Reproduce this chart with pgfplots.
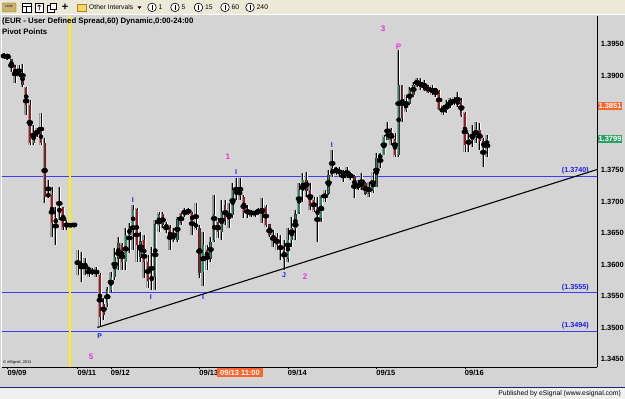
\documentclass[border=0pt]{standalone}
\usepackage{fontspec}
\setmainfont{Liberation Sans}
\usepackage{pgfplots}
\usepackage{pgfplotstable}
\pgfplotsset{compat=1.18}
\definecolor{bg}{RGB}{212,212,212}
\definecolor{tb}{RGB}{236,233,216}
\definecolor{strip}{RGB}{240,240,240}
\definecolor{navy}{RGB}{20,40,110}
\definecolor{upc}{RGB}{40,135,95}
\definecolor{dnc}{RGB}{165,25,30}
\definecolor{shadowc}{RGB}{150,150,150}
\definecolor{pivblue}{RGB}{60,60,255}
\definecolor{lblblue}{RGB}{30,30,230}
\definecolor{mag}{RGB}{230,50,220}
\definecolor{orangebox}{RGB}{255,100,45}
\definecolor{greenbox}{RGB}{45,160,100}

\pgfplotstableread{
i o h l c
0 1.3934 1.3936 1.3926 1.3929
1 1.3933 1.3934 1.3925 1.3929
2 1.3925 1.3926 1.3906 1.3913
3 1.3913 1.3917 1.3888 1.3901
4 1.3906 1.3917 1.3898 1.3901
5 1.3904 1.3918 1.3882 1.3885
6 1.3880 1.3882 1.3837 1.3853
7 1.3853 1.3861 1.3790 1.3793
8 1.3793 1.3821 1.3790 1.3809
9 1.3807 1.3817 1.3803 1.3812
10 1.3813 1.3840 1.3790 1.3793
11 1.3793 1.3801 1.3697 1.3707
12 1.3707 1.3734 1.3706 1.3713
13 1.3710 1.3723 1.3643 1.3666
14 1.3674 1.3691 1.3631 1.3664
15 1.3683 1.3723 1.3671 1.3690
16 1.3690 1.3690 1.3655 1.3660
17 1.3661 1.3671 1.3655 1.3663
18 1.3663 1.3664 1.3661 1.3662
19 1.3663 1.3665 1.3661 1.3662
20 1.3607 1.3623 1.3583 1.3599
21 1.3602 1.3620 1.3572 1.3596
22 1.3601 1.3610 1.3583 1.3598
23 1.3594 1.3596 1.3580 1.3591
24 1.3591 1.3594 1.3583 1.3586
25 1.3591 1.3596 1.3580 1.3586
26 1.3583 1.3586 1.3501 1.3517
27 1.3536 1.3547 1.3512 1.3520
28 1.3539 1.3564 1.3533 1.3560
29 1.3560 1.3588 1.3556 1.3580
30 1.3580 1.3626 1.3575 1.3612
31 1.3610 1.3644 1.3591 1.3634
32 1.3631 1.3634 1.3591 1.3604
33 1.3604 1.3658 1.3591 1.3647
34 1.3647 1.3666 1.3618 1.3658
35 1.3658 1.3694 1.3623 1.3687
36 1.3687 1.3690 1.3604 1.3631
37 1.3612 1.3652 1.3604 1.3636
38 1.3639 1.3647 1.3579 1.3604
39 1.3604 1.3615 1.3563 1.3575
40 1.3575 1.3628 1.3560 1.3581
41 1.3581 1.3671 1.3560 1.3663
42 1.3663 1.3683 1.3652 1.3679
43 1.3680 1.3683 1.3658 1.3663
44 1.3663 1.3667 1.3650 1.3658
45 1.3658 1.3663 1.3623 1.3639
46 1.3650 1.3658 1.3636 1.3639
47 1.3639 1.3676 1.3636 1.3671
48 1.3679 1.3682 1.3663 1.3667
49 1.3680 1.3690 1.3676 1.3683
50 1.3687 1.3690 1.3679 1.3682
51 1.3682 1.3683 1.3647 1.3666
52 1.3666 1.3697 1.3655 1.3658
53 1.3658 1.3663 1.3579 1.3587
54 1.3588 1.3652 1.3566 1.3631
55 1.3623 1.3631 1.3591 1.3610
56 1.3610 1.3644 1.3604 1.3636
57 1.3639 1.3710 1.3636 1.3679
58 1.3667 1.3674 1.3642 1.3652
59 1.3652 1.3702 1.3639 1.3683
60 1.3694 1.3702 1.3663 1.3671
61 1.3671 1.3698 1.3658 1.3679
62 1.3679 1.3729 1.3674 1.3718
63 1.3715 1.3737 1.3702 1.3713
64 1.3718 1.3737 1.3702 1.3709
65 1.3707 1.3710 1.3674 1.3682
66 1.3682 1.3694 1.3674 1.3685
67 1.3685 1.3687 1.3676 1.3680
68 1.3680 1.3687 1.3676 1.3683
69 1.3683 1.3690 1.3679 1.3685
70 1.3685 1.3706 1.3666 1.3682
71 1.3690 1.3694 1.3660 1.3663
72 1.3663 1.3663 1.3644 1.3647
73 1.3647 1.3655 1.3628 1.3639
74 1.3644 1.3650 1.3623 1.3631
75 1.3631 1.3647 1.3607 1.3623
76 1.3623 1.3639 1.3591 1.3610
77 1.3610 1.3658 1.3604 1.3639
78 1.3639 1.3676 1.3628 1.3658
79 1.3658 1.3687 1.3639 1.3679
80 1.3683 1.3729 1.3680 1.3718
81 1.3718 1.3745 1.3699 1.3734
82 1.3734 1.3747 1.3707 1.3718
83 1.3718 1.3729 1.3687 1.3694
84 1.3702 1.3707 1.3683 1.3687
85 1.3687 1.3707 1.3636 1.3679
86 1.3674 1.3710 1.3667 1.3706
87 1.3706 1.3718 1.3699 1.3713
88 1.3713 1.3750 1.3710 1.3742
89 1.3742 1.3782 1.3739 1.3753
90 1.3753 1.3755 1.3742 1.3748
91 1.3750 1.3755 1.3739 1.3744
92 1.3744 1.3750 1.3731 1.3740
93 1.3742 1.3755 1.3737 1.3747
94 1.3745 1.3747 1.3734 1.3737
95 1.3740 1.3742 1.3706 1.3721
96 1.3721 1.3734 1.3718 1.3728
97 1.3728 1.3745 1.3718 1.3725
98 1.3729 1.3731 1.3710 1.3713
99 1.3713 1.3731 1.3707 1.3723
100 1.3718 1.3747 1.3713 1.3734
101 1.3723 1.3777 1.3723 1.3769
102 1.3769 1.3777 1.3753 1.3774
103 1.3774 1.3806 1.3774 1.3802
104 1.3798 1.3826 1.3798 1.3813
105 1.3813 1.3817 1.3790 1.3798
106 1.3798 1.3809 1.3771 1.3774
107 1.3774 1.3940 1.3771 1.3885
108 1.3885 1.3885 1.3826 1.3833
109 1.3845 1.3869 1.3842 1.3858
110 1.3856 1.3882 1.3853 1.3877
111 1.3869 1.3890 1.3866 1.3885
112 1.3885 1.3896 1.3882 1.3890
113 1.3890 1.3896 1.3877 1.3880
114 1.3888 1.3893 1.3875 1.3877
115 1.3883 1.3885 1.3872 1.3874
116 1.3877 1.3885 1.3869 1.3875
117 1.3874 1.3880 1.3866 1.3879
118 1.3875 1.3877 1.3845 1.3848
119 1.3850 1.3853 1.3837 1.3845
120 1.3845 1.3861 1.3840 1.3855
121 1.3855 1.3864 1.3848 1.3861
122 1.3861 1.3866 1.3853 1.3858
123 1.3859 1.3874 1.3850 1.3855
124 1.3858 1.3864 1.3834 1.3837
125 1.3840 1.3842 1.3779 1.3790
126 1.3790 1.3809 1.3779 1.3798
127 1.3798 1.3821 1.3787 1.3806
128 1.3804 1.3826 1.3793 1.3815
129 1.3813 1.3825 1.3782 1.3796
130 1.3796 1.3801 1.3755 1.3785
131 1.3788 1.3806 1.3771 1.3799
}\candles

\begin{document}
\begin{tikzpicture}[
  mk/.style={text=lblblue, font=\bfseries\fontsize{7}{7}\selectfont, inner sep=0pt},
  mg/.style={text=mag, font=\bfseries\fontsize{8}{8}\selectfont, inner sep=0pt},
  pl/.style={text=lblblue, font=\bfseries\fontsize{7.2}{7.2}\selectfont, inner sep=0pt, anchor=east},
  bx/.style={text=white, font=\bfseries\fontsize{7.5}{7.5}\selectfont, inner sep=0pt, minimum width=24.6pt, minimum height=8.4pt}
]
\useasboundingbox (0,0) rectangle (625pt,399pt);
\fill[bg] (0,0) rectangle (625pt,399pt);
\begin{scope}[shift={(0,399pt)}, x=1pt, y=-1pt]
  \fill[tb] (0,0) rectangle (625,14.5);
  \draw[white, line width=0.8pt] (0,14.6)--(625,14.6);
  \fill[strip] (0,387.5) rectangle (625,399);
  \draw[navy, line width=1pt] (0,387.3)--(625,387.3);
  \draw[white!85!bg, line width=0.8pt] (1.4,15)--(1.4,367);
\end{scope}

\begin{axis}[
  at={(2pt,32pt)}, anchor=south west, scale only axis,
  width=595pt, height=351pt,
  xmin=-0.57, xmax=160.79, ymin=1.34373, ymax=1.39944,
  axis x line*=bottom, axis y line*=right,
  axis line style={black, line width=0.9pt, -},
  xtick={1,20,29,53,77,101,125},
  xticklabels={09/09,09/11,09/12,09/13,09/14,09/15,09/16},
  ytick={1.345,1.35,1.355,1.36,1.365,1.37,1.375,1.39,1.395},
  scaled y ticks=false,
  yticklabel style={/pgf/number format/fixed, /pgf/number format/fixed zerofill,
    /pgf/number format/precision=4, /pgf/number format/assume math mode=true,
    font=\bfseries\fontsize{7.5}{7.5}\selectfont, anchor=west, inner sep=0pt, xshift=1.2pt},
  xticklabel style={font=\bfseries\fontsize{7.5}{7.5}\selectfont, anchor=north west, inner sep=0pt, xshift=-0.3pt, yshift=-0.5pt},
  ytick style={draw=none},
  xtick style={black, line width=0.7pt},
  tick align=outside, major tick length=2.5pt,
  clip=true,
]
% pivot lines
\addplot[pivblue, line width=0.9pt, forget plot] coordinates {(-0.57,1.3740) (160.79,1.3740)};
\addplot[pivblue, line width=0.9pt, forget plot] coordinates {(-0.57,1.3555) (160.79,1.3555)};
\addplot[pivblue, line width=0.9pt, forget plot] coordinates {(-0.57,1.3494) (160.79,1.3494)};
% yellow line
\addplot[yellow, line width=1.3pt, forget plot] coordinates {(17.87,1.34373) (17.87,1.39944)};
% shadows (left, gray) and highlights (right, white)
\addplot[only marks, mark=none, forget plot, error bars/.cd, y dir=both, y explicit, error mark=none,
  error bar style={draw=shadowc, line width=1.3pt}]
  table[x expr=\thisrow{i}-0.32, y expr=(\thisrow{h}+\thisrow{l})/2, y error expr=(\thisrow{h}-\thisrow{l})/2]{\candles};
\addplot[only marks, mark=none, forget plot, error bars/.cd, y dir=both, y explicit, error mark=none,
  error bar style={draw=white, line width=0.6pt}]
  table[x expr=\thisrow{i}+0.27, y expr=(\thisrow{h}+\thisrow{l})/2, y error expr=(\thisrow{h}-\thisrow{l})/2]{\candles};
% wicks
\addplot[only marks, mark=none, forget plot, error bars/.cd, y dir=both, y explicit, error mark=none,
  error bar style={draw=black, line width=0.65pt}]
  table[x=i, y expr=(\thisrow{h}+\thisrow{l})/2, y error expr=(\thisrow{h}-\thisrow{l})/2]{\candles};
% body border
\addplot[only marks, mark=none, forget plot, error bars/.cd, y dir=both, y explicit, error mark=none,
  error bar style={draw=black!80, line width=2.2pt}]
  table[x=i, y expr=(\thisrow{o}+\thisrow{c})/2, y error expr={abs(\thisrow{c}-\thisrow{o})/2+0.00005}]{\candles};
% up bodies
\addplot[only marks, mark=none, forget plot, restrict y to domain=1.3:1.5, error bars/.cd, y dir=both, y explicit, error mark=none,
  error bar style={draw=upc, line width=1.5pt}]
  table[x=i, y expr={\thisrow{c}>=\thisrow{o} ? (\thisrow{o}+\thisrow{c})/2 : 0}, y error expr={max(abs(\thisrow{c}-\thisrow{o})/2-0.00002,0.00001)}]{\candles};
% down bodies
\addplot[only marks, mark=none, forget plot, restrict y to domain=1.3:1.5, error bars/.cd, y dir=both, y explicit, error mark=none,
  error bar style={draw=dnc, line width=1.5pt}]
  table[x=i, y expr={\thisrow{c}<\thisrow{o} ? (\thisrow{o}+\thisrow{c})/2 : 0}, y error expr={max(abs(\thisrow{c}-\thisrow{o})/2-0.00002,0.00001)}]{\candles};
% trend line
\addplot[black, line width=1.1pt, forget plot] coordinates {(25.3,1.3500) (160.79,1.37507)};
% markers
\node[mk] at (axis cs:25.9,1.3487) {P};
\node[mk] at (axis cs:34.9,1.3702) {I};
\node[mk] at (axis cs:39.8,1.3548) {I};
\node[mk] at (axis cs:54,1.3548) {I};
\node[mk] at (axis cs:62.9,1.3747) {I};
\node[mk] at (axis cs:75.9,1.3583) {J};
\node[mk] at (axis cs:88.9,1.3790) {I};
\node[mg] at (axis cs:107,1.3946) {P};
\node[mg] at (axis cs:23.6,1.3453) {5};
\node[mg] at (axis cs:60.7,1.3771) {1};
\node[mg] at (axis cs:81.6,1.3580) {2};
\node[mg] at (axis cs:102.8,1.3974) {3};
\end{axis}

\begin{scope}[shift={(0,399pt)}, x=1pt, y=-1pt]
  % header
  \node[anchor=west, inner sep=0pt, font=\bfseries\fontsize{7.8}{7.8}\selectfont] at (2,21.6) {(EUR - User Defined Spread,60) Dynamic,0:00-24:00};
  \node[anchor=west, inner sep=0pt, font=\bfseries\fontsize{7.8}{7.8}\selectfont] at (2,31.6) {Pivot Points};
  % pivot labels
  \node[pl] at (589,170.5) {(1.3740)};
  \node[pl] at (589,287.5) {(1.3555)};
  \node[pl] at (589,325.5) {(1.3494)};
  % price boxes
  \node[bx, fill=orangebox] at (610,105.9) {1.3851};
  \node[bx, fill=greenbox] at (610,139.2) {1.3799};
  % cursor date box
  \node[fill=orangebox, text=white, font=\bfseries\fontsize{7.5}{7.5}\selectfont, inner sep=0pt, minimum width=46.6pt, minimum height=9.2pt] at (240,372.6) {09/13 11:00};
  % copyright
  \node[anchor=west, inner sep=0pt, font=\fontsize{4}{4}\selectfont] at (3,362.5) {\textcopyright\ eSignal, 2011};
  % footer
  \node[anchor=east, inner sep=0pt, font=\fontsize{6.8}{6.8}\selectfont] at (621,393.3) {Published by eSignal (www.esignal.com)};
  % toolbar icons
  \fill[rounded corners=0.6pt, fill={rgb,255:red,205;green,180;blue,100}, draw={rgb,255:red,120;green,90;blue,30}, line width=0.4pt] (2.5,3) rectangle (16,12);
  \node[inner sep=0pt, font=\bfseries\fontsize{3.2}{3.2}\selectfont, text={rgb,255:red,30;green,40;blue,140}] at (9.2,6.2) {LINK};
  \draw[black, line width=0.5pt, fill=white] (22,3.5) rectangle (31,12);
  \draw[black, line width=0.4pt] (22,6)--(31,6) (26.5,6)--(26.5,12);
  \draw[black, line width=0.5pt, fill=white] (35,3.5) rectangle (43.5,12);
  \draw[black, line width=0.6pt] (39.2,5)--(39.2,10.5) (37.5,6.5)--(39.2,5)--(40.9,6.5);
  \draw[black, line width=0.5pt, fill=white] (47,5) rectangle (54,12);
  \draw[black, line width=0.5pt, fill=white] (50,3) rectangle (56,9);
  \node[inner sep=0pt, font=\bfseries\fontsize{11}{11}\selectfont] at (65,7.6) {+};
  \fill[fill={rgb,255:red,245;green,215;blue,95}, draw={rgb,255:red,170;green,130;blue,40}, line width=0.4pt] (77,4.5) rectangle (86,11.5);
  \node[anchor=west, inner sep=0pt, font=\fontsize{6.7}{6.7}\selectfont] at (89,7.5) {Other Intervals};
  \fill[black] (137.5,6.5)--(141.5,6.5)--(139.5,8.8)--cycle;
  \foreach \cx/\lab in {152/1, 175/5, 198.5/15, 225/60, 250/240}{
    \draw[black, line width=0.6pt, fill=white] (\cx,7.4) circle (4.3);
    \draw[black, line width=0.8pt] (\cx,4.8)--(\cx,10);
    \node[anchor=west, inner sep=0pt, font=\fontsize{6.8}{6.8}\selectfont] at (\cx+6.5,7.5) {\lab};
  }
\end{scope}
\end{tikzpicture}
\end{document}
